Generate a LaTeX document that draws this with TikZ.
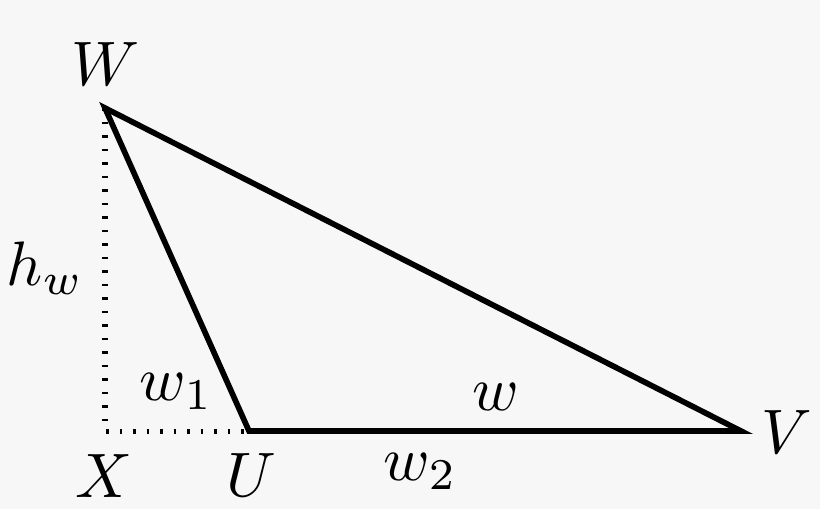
\documentclass[tikz,border=0pt]{standalone}
\definecolor{bg}{RGB}{247,247,247}
\begin{document}
\begin{tikzpicture}[x=0.1592pt,y=-0.1592pt,
  side/.style={line width=0.9pt,line join=miter},
  drop/.style={line width=0.8pt,dash pattern=on 0.4pt off 1.75pt},
  lbl/.style={anchor=base,inner sep=0pt}]
\fill[bg] (0,0) rectangle (820,509);
\useasboundingbox (0,0) rectangle (820,509);
\coordinate (W) at (105,108);
\coordinate (U) at (249,431);
\coordinate (V) at (741,431);
\coordinate (X) at (105,431);
\draw[drop] (W) -- (X) -- (U);
\draw[side] (W) -- (U) -- (V) -- cycle;
\node[lbl] (lW) at (106,85) {$W$};
\node[lbl] (lX) at (104,497) {$X$};
\node[lbl] (lU) at (251,496) {$U$};
\node[lbl] (lV) at (787,453) {$V$};
\node[lbl] (lh) at (45,285) {$h_w$};
\node[lbl] (lw1) at (176.5,400) {$w_1$};
\node[lbl] (lw) at (496,410) {$w$};
\node[lbl] (lw2) at (420.5,480) {$w_2$};
\end{tikzpicture}
\end{document}
